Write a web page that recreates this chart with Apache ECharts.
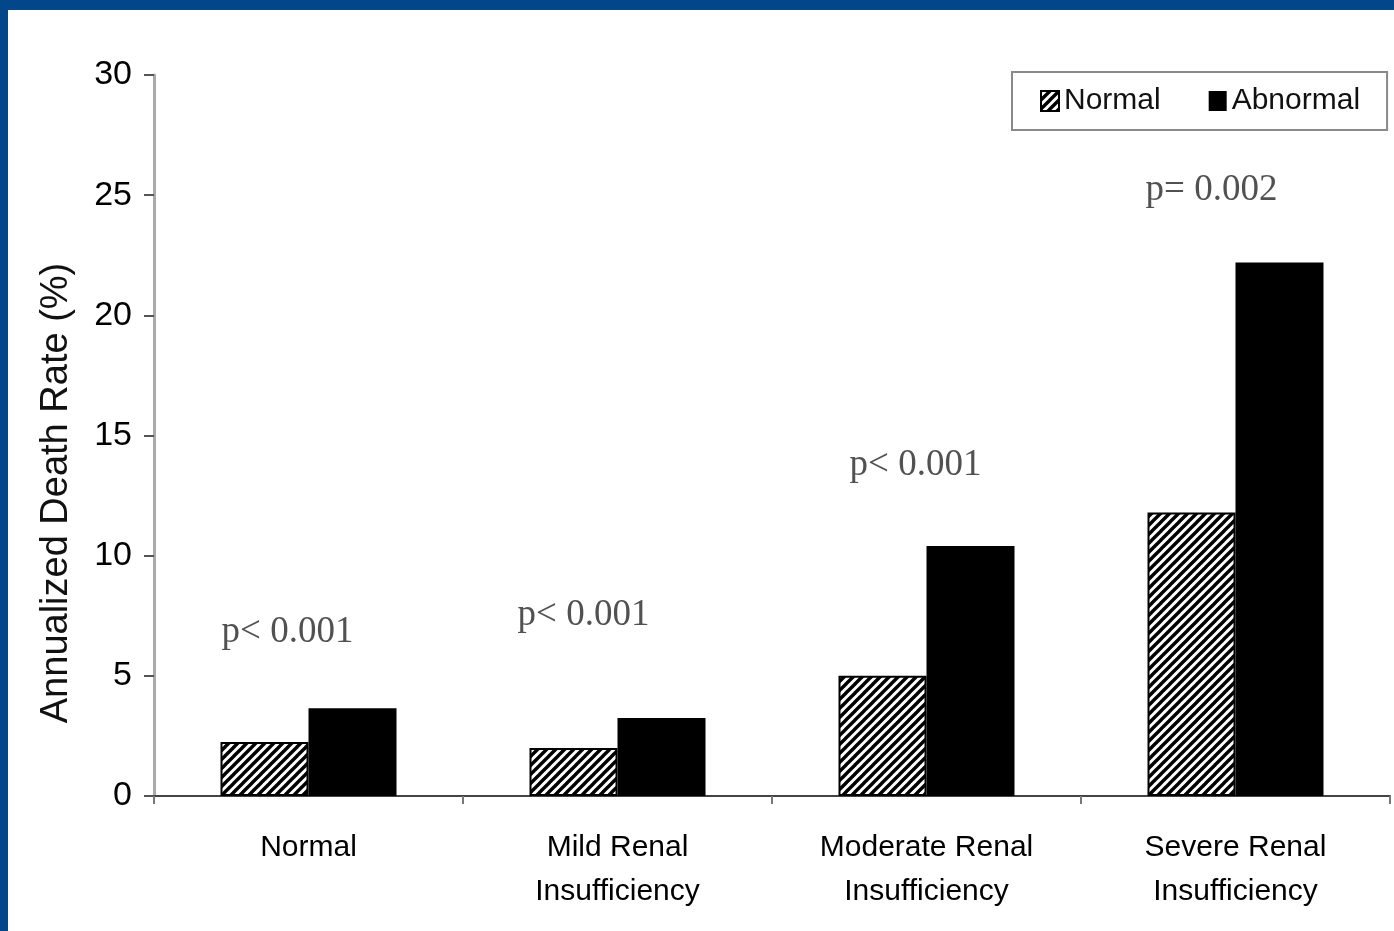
<!DOCTYPE html>
<html>
<head>
<meta charset="utf-8">
<title>Annualized Death Rate by Renal Function</title>
<script src="https://cdn.jsdelivr.net/npm/echarts@6/dist/echarts.min.js"></script>
<style>
  html, body { margin: 0; padding: 0; background: #ffffff; }
  #chart { width: 1394px; height: 931px; }
</style>
</head>
<body>
<div id="chart"></div>
<script>
// Renal function groups along the x axis
const categories = ['Normal', 'Mild Renal\nInsufficiency', 'Moderate Renal\nInsufficiency', 'Severe Renal\nInsufficiency'];
// Annualized death rate (%) by test result
const normalRates = [2.25, 2.0, 5.0, 11.8];
const abnormalRates = [3.65, 3.25, 10.4, 22.2];
// Significance notes above each group, and the rate level they sit at
const pLabels = ['p< 0.001', 'p< 0.001', 'p< 0.001', 'p= 0.002'];
const pLevels = [6.8, 7.5, 13.75, 25.2];
// Y axis ticks
const yTicks = [0, 5, 10, 15, 20, 25, 30];
const yTitle = 'Annualized Death Rate (%)';

// Diagonal hatching used for the "Normal" bars
function makeHatch() {
  const s = 9;
  const c = document.createElement('canvas');
  c.width = s; c.height = s;
  const g = c.getContext('2d');
  g.fillStyle = '#ffffff';
  g.fillRect(0, 0, s, s);
  g.strokeStyle = '#000000';
  g.lineWidth = 3.4;
  g.beginPath();
  for (let k = -1; k <= 1; k++) {
    g.moveTo(k * s - 1, s + 1);
    g.lineTo(k * s + s + 1, -1);
  }
  g.stroke();
  return c;
}
const hatch = { image: makeHatch(), repeat: 'repeat' };

// Small horizontal nudges for the significance notes (px)
const noteNudge = [-21, -34, -11, -24];

const sans = 'Liberation Sans, Arial, sans-serif';
const chart = echarts.init(document.getElementById('chart'), null, { renderer: 'canvas' });

const option = {
  animation: false,
  backgroundColor: '#ffffff',
  graphic: [
    { type: 'rect', shape: { x: 0, y: 0, width: 1394, height: 10 }, style: { fill: '#03478a' }, z: 100 },
    { type: 'rect', shape: { x: 0, y: 0, width: 8, height: 931 }, style: { fill: '#03478a' }, z: 100 },
    {
      type: 'text',
      x: 57,
      y: 493,
      rotation: Math.PI / 2,
      style: {
        text: yTitle,
        font: '38px ' + sans,
        fill: '#111',
        align: 'center',
        verticalAlign: 'middle'
      }
    }
  ],
  legend: {
    left: 1012,
    top: 72,
    padding: [14, 27, 14, 28],
    itemGap: 48,
    itemWidth: 18,
    itemHeight: 20,
    icon: 'rect',
    borderColor: '#8a8a8a',
    borderWidth: 2,
    textStyle: { fontFamily: sans, fontSize: 30, color: '#111' },
    data: ['Normal', 'Abnormal']
  },
  grid: { left: 154, right: 4, top: 75, bottom: 135, containLabel: false },
  xAxis: {
    type: 'category',
    data: categories,
    axisLine: { lineStyle: { color: '#444', width: 2 } },
    axisTick: { show: true, length: 8, lineStyle: { color: '#777', width: 2 } },
    axisLabel: {
      margin: 30,
      fontFamily: sans,
      fontSize: 30,
      lineHeight: 44,
      color: '#000'
    }
  },
  yAxis: {
    type: 'value',
    min: 0,
    max: 30,
    interval: 5,
    axisLine: { show: true, lineStyle: { color: '#aaaaaa', width: 3 } },
    axisTick: { show: true, length: 10, lineStyle: { color: '#555', width: 2 } },
    axisLabel: {
      margin: 22,
      fontFamily: sans,
      fontSize: 34,
      color: '#000',
      formatter: v => (yTicks.includes(v) ? String(v) : '')
    },
    splitLine: { show: false }
  },
  series: [
    {
      name: 'Normal',
      type: 'bar',
      data: normalRates,
      barWidth: 88,
      barGap: '0%',
      itemStyle: { color: hatch, borderColor: '#000', borderWidth: 2 }
    },
    {
      name: 'Abnormal',
      type: 'bar',
      data: abnormalRates,
      barWidth: 88,
      barGap: '0%',
      itemStyle: { color: '#000000' }
    },
    {
      name: 'notes',
      type: 'scatter',
      symbolSize: 0,
      silent: true,
      legendHoverLink: false,
      data: pLevels.map((v, i) => ({
        value: [i, v],
        label: {
          show: true,
          position: 'inside',
          offset: [noteNudge[i], 0],
          formatter: pLabels[i],
          fontFamily: 'Liberation Serif, Times New Roman, serif',
          fontSize: 37,
          color: '#262626'
        }
      }))
    }
  ]
};

chart.setOption(option);
</script>
</body>
</html>
